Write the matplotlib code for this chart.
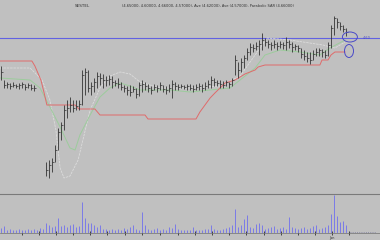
import matplotlib
matplotlib.use("Agg")
import matplotlib.pyplot as plt
from matplotlib.patches import Ellipse
import numpy as np

nan = np.nan

# daily bars (price)
high = [4.32, 4.18, 4.16, 4.15, 4.16, 4.14, 4.15, 4.16, 4.14, 4.15, 4.14, 4.13, nan, nan, nan,
        3.36, 3.38, 3.40, 3.53, 3.70, 3.76, 3.93, 3.98, 4.01, 3.98, 3.98, 3.98, 4.28, 4.30, 4.28,
        4.16, 4.20, 4.26, 4.25, 4.24, 4.22, 4.23, 4.22, 4.18, 4.20, 4.16, 4.13, 4.12, 4.13, 4.12,
        4.10, 4.16, 4.18, 4.16, 4.14, 4.12, 4.14, 4.13, 4.16, 4.13, 4.12, 4.14, 4.18, 4.16, 4.14,
        4.14, 4.13, 4.14, 4.14, 4.13, 4.14, 4.15, 4.14, 4.16, 4.18, 4.22, 4.20, 4.18, 4.18, 4.17,
        4.18, 4.16, 4.20, 4.43, 4.36, 4.40, 4.43, 4.50, 4.55, 4.54, 4.56, 4.58, 4.65, 4.60, 4.58,
        4.56, 4.58, 4.56, 4.57, 4.56, 4.61, 4.58, 4.56, 4.54, 4.53, 4.50, 4.48, 4.46, 4.46, 4.48,
        4.50, 4.50, 4.49, 4.48, 4.56, 4.73, 4.82, 4.80, 4.76, 4.73, 4.70]
low = [4.18, 4.10, 4.10, 4.09, 4.11, 4.10, 4.09, 4.10, 4.08, 4.10, 4.08, 4.07, nan, nan, nan,
       3.22, 3.20, 3.26, 3.36, 3.48, 3.58, 3.68, 3.80, 3.86, 3.86, 3.88, 3.88, 3.93, 4.03, 4.06,
       4.03, 4.06, 4.10, 4.13, 4.10, 4.12, 4.13, 4.10, 4.12, 4.10, 4.08, 4.06, 4.03, 4.02, 4.06,
       4.00, 4.02, 4.06, 4.08, 4.06, 4.04, 4.08, 4.06, 4.08, 4.06, 4.04, 4.06, 4.00, 4.08, 4.08,
       4.10, 4.09, 4.08, 4.08, 4.06, 4.08, 4.08, 4.06, 4.08, 4.10, 4.10, 4.12, 4.12, 4.10, 4.10,
       4.12, 4.10, 4.12, 4.23, 4.20, 4.26, 4.30, 4.38, 4.43, 4.46, 4.48, 4.43, 4.48, 4.52, 4.50,
       4.48, 4.50, 4.48, 4.50, 4.49, 4.48, 4.50, 4.46, 4.48, 4.46, 4.40, 4.38, 4.36, 4.34, 4.38,
       4.42, 4.42, 4.41, 4.40, 4.42, 4.50, 4.63, 4.70, 4.68, 4.66, 4.62]
close = [4.26, 4.13, 4.14, 4.12, 4.13, 4.12, 4.13, 4.14, 4.11, 4.13, 4.10, 4.10, nan, nan, nan,
         3.28, 3.33, 3.36, 3.48, 3.66, 3.73, 3.88, 3.90, 3.93, 3.90, 3.92, 3.94, 4.23, 4.26, 4.10,
         4.12, 4.16, 4.22, 4.20, 4.18, 4.18, 4.19, 4.16, 4.15, 4.14, 4.11, 4.10, 4.08, 4.06, 4.09,
         4.04, 4.13, 4.14, 4.12, 4.10, 4.08, 4.11, 4.10, 4.13, 4.09, 4.08, 4.10, 4.14, 4.12, 4.11,
         4.12, 4.11, 4.12, 4.10, 4.09, 4.11, 4.12, 4.10, 4.12, 4.14, 4.18, 4.16, 4.15, 4.14, 4.13,
         4.16, 4.14, 4.18, 4.38, 4.28, 4.36, 4.40, 4.46, 4.51, 4.50, 4.52, 4.54, 4.58, 4.56, 4.54,
         4.53, 4.54, 4.52, 4.54, 4.53, 4.56, 4.54, 4.51, 4.52, 4.50, 4.44, 4.42, 4.40, 4.38, 4.44,
         4.46, 4.48, 4.46, 4.43, 4.53, 4.70, 4.80, 4.76, 4.72, 4.69, 4.66]
volume = [500, 700, 300, 400, 300, 300, 400, 300, 300, 400, 300, 400, 300, 500, 400,
          1000, 800, 600, 700, 1500, 700, 800, 600, 800, 900, 600, 700, 3100, 1500, 1000,
          1000, 800, 600, 800, 400, 400, 300, 400, 300, 400, 300, 500, 400, 600, 800,
          400, 300, 2100, 800, 400, 300, 400, 500, 300, 400, 300, 600, 500, 900, 400,
          300, 300, 300, 300, 600, 300, 300, 300, 400, 400, 800, 400, 300, 300, 400,
          500, 600, 800, 2400, 600, 800, 1400, 1800, 600, 500, 900, 1000, 800, 400, 500,
          600, 700, 400, 500, 600, 400, 1600, 600, 500, 400, 500, 600, 400, 500, 700,
          800, 400, 500, 600, 800, 1900, 3800, 1700, 1100, 1200, 800]

# indicator lines, read at a few points (bar index, price)
ma_x = [-0.3, 9.7, 13, 16.3, 19.7, 23, 24.7, 26.3, 29.7, 33, 36.3, 39.7, 43, 46.3, 56.3,
        63, 76.3, 79.7, 84.7, 88, 93, 99.7, 106.3, 109.7, 114.7]
ma_y = [4.20, 4.18, 4.10, 3.91, 3.71, 3.50, 3.48, 3.63, 3.83, 4.01, 4.10, 4.15, 4.12, 4.08, 4.08,
        4.06, 4.10, 4.18, 4.30, 4.43, 4.48, 4.46, 4.43, 4.50, 4.58]
ma2_x = [-0.3, 9.7, 13.7, 16.3, 18.3, 19.7, 21, 23, 25.7, 27.7, 29.7, 33, 36.3, 39.7, 43, 46.3,
         53, 63, 73, 79.7, 84.7, 88.7, 96.3, 107.3, 111.3, 114.7]
ma2_y = [4.30, 4.30, 4.18, 3.98, 3.68, 3.30, 3.20, 3.22, 3.38, 3.63, 3.88, 4.10, 4.22, 4.26, 4.24,
         4.16, 4.10, 4.10, 4.12, 4.22, 4.43, 4.60, 4.58, 4.53, 4.50, 4.56]
stop_x = [-0.3, 10.3, 11.3, 12.3, 13.3, 14.3, 15.3, 24.7, 26, 31.3, 33, 48, 49, 65, 66.3, 68,
          69.7, 71.3, 73, 74.7, 78, 79.7, 81.3, 84.7, 85.7, 88, 106.3, 107, 109, 110, 111.3, 114.7]
stop_y = [4.37, 4.37, 4.32, 4.25, 4.18, 4.06, 3.93, 3.93, 3.89, 3.89, 3.83, 3.83, 3.79, 3.79, 3.86,
          3.93, 4.00, 4.05, 4.10, 4.15, 4.18, 4.21, 4.24, 4.28, 4.31, 4.33, 4.33, 4.38, 4.38, 4.43,
          4.46, 4.46]
level = 4.60

date_ticks = [7, 12.7, 18.3, 24, 29.7, 35.3, 41.3, 47, 53, 59, 64.7, 70.3, 76, 81.7, 87.7,
              93.3, 99, 104.7, 110.3, 116]

bg = "#c0c0c0"
idx = np.arange(len(close))

fig = plt.figure(figsize=(3.8, 2.4), dpi=100, facecolor=bg)
ax = fig.add_axes([0, 1 - 193 / 240, 1, 193 / 240], facecolor=bg)
ax2 = fig.add_axes([0, 7 / 240, 1, 39 / 240], facecolor=bg)

x0 = -1 / 3
ax.set_xlim(x0, x0 + 380 / 3)
ax.set_ylim(3.05, 4.98)

ax.axhline(level, color="#6262e2", lw=0.8, zorder=1)
ax.plot(ma2_x, ma2_y, color="#dcdcdc", lw=0.6, ls=(0, (3, 1)), zorder=2)
ax.plot(ma_x, ma_y, color="#9ccc9c", lw=0.7, zorder=2)
ax.plot(stop_x, stop_y, color="#e06a6a", lw=0.7, zorder=3)

ax.vlines(idx, low, high, color="#333333", lw=0.6, zorder=4)
ax.hlines(close, idx, idx + 0.6, color="#333333", lw=0.5, zorder=4)

ax.add_patch(Ellipse((116.3, 4.61), 5, 0.10, fill=False, ec="#4a4ac8", lw=0.7, zorder=5))
ax.add_patch(Ellipse((116.0, 4.47), 3, 0.13, fill=False, ec="#4a4ac8", lw=0.7, zorder=5))
ax.text(0.955, 0.803, "4.60", transform=ax.transAxes, fontsize=2.5, color="#4a4ac8",
        ha="left", va="center")

for s in ax.spines.values():
    s.set_visible(False)
ax.set_xticks([])
ax.set_yticks([])

fig.text(75 / 380, 1 - 6 / 240, "SESTEL", fontsize=3, color="#303030", va="center")
fig.text(122 / 380, 1 - 6 / 240,
         "(4.65000, 4.60000, 4.66000, 4.57000), Ave (4.62000), Ave (4.57000), Parabolic SAR (4.66000)",
         fontsize=2.6, color="#303030", va="center")

# volume panel
ax2.set_xlim(x0, x0 + 380 / 3)
ax2.set_ylim(0, 3900)
ax2.vlines(idx, 0, volume, color="#7a7ae8", lw=0.7)
ax2.axhline(150, xmin=0.92, xmax=0.99, color="#8080a0", lw=0.6, ls=":")
for k in ["left", "right"]:
    ax2.spines[k].set_visible(False)
ax2.spines["top"].set_color("#7a7a7a")
ax2.spines["top"].set_linewidth(0.8)
ax2.spines["bottom"].set_color("#707070")
ax2.spines["bottom"].set_linewidth(0.5)
ax2.set_yticks([])
ax2.set_xticks(date_ticks)
ax2.set_xticklabels(["" if i != 18 else "Jan" for i in range(len(date_ticks))])
ax2.tick_params(axis="x", direction="inout", length=3, width=0.6, color="#303030",
                labelsize=2.5, pad=0.5, labelcolor="#303030")

fig.savefig("out.png", dpi=100, facecolor=bg)
